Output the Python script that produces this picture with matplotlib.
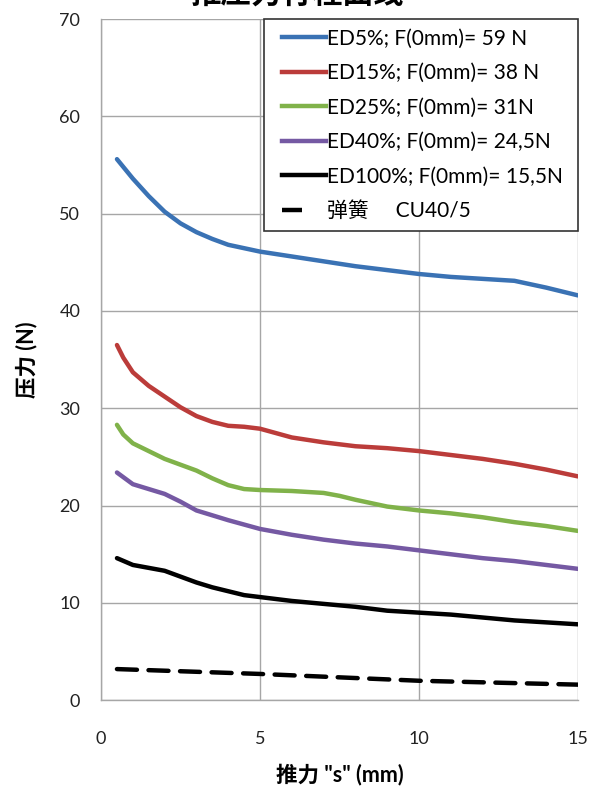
import matplotlib
matplotlib.use("Agg")
import matplotlib.pyplot as plt
from matplotlib.lines import Line2D
from matplotlib.legend_handler import HandlerLine2D

plt.rcParams['font.family'] = ['Lato', 'Noto Sans CJK SC', 'DejaVu Sans']

# ---- data ----
x_blue = [0.5, 1.0, 1.5, 2.0, 2.5, 3.0, 3.5, 4.0, 5.0, 6.0, 7.0, 8.0, 9.0, 10.0, 11.0, 12.0, 13.0, 14.0, 15.0]
y_blue = [55.6, 53.6, 51.8, 50.2, 49.0, 48.1, 47.4, 46.8, 46.1, 45.6, 45.1, 44.6, 44.2, 43.8, 43.5, 43.3, 43.1, 42.4, 41.6]

x_red = [0.5, 0.7, 1.0, 1.5, 2.0, 2.5, 3.0, 3.5, 4.0, 4.5, 5.0, 6.0, 7.0, 8.0, 9.0, 10.0, 11.0, 12.0, 13.0, 14.0, 15.0]
y_red = [36.5, 35.2, 33.7, 32.3, 31.2, 30.1, 29.2, 28.6, 28.2, 28.1, 27.9, 27.0, 26.5, 26.1, 25.9, 25.6, 25.2, 24.8, 24.3, 23.7, 23.0]

x_green = [0.5, 0.7, 1.0, 1.5, 2.0, 2.5, 3.0, 3.5, 4.0, 4.5, 5.0, 6.0, 7.0, 7.5, 8.0, 9.0, 10.0, 11.0, 12.0, 13.0, 14.0, 15.0]
y_green = [28.3, 27.3, 26.4, 25.6, 24.8, 24.2, 23.6, 22.8, 22.1, 21.7, 21.6, 21.5, 21.3, 21.0, 20.6, 19.9, 19.5, 19.2, 18.8, 18.3, 17.9, 17.4]

x_purple = [0.5, 1.0, 1.5, 2.0, 2.5, 3.0, 3.5, 4.0, 5.0, 6.0, 7.0, 8.0, 9.0, 10.0, 11.0, 12.0, 13.0, 14.0, 15.0]
y_purple = [23.4, 22.2, 21.7, 21.2, 20.4, 19.5, 19.0, 18.5, 17.6, 17.0, 16.5, 16.1, 15.8, 15.4, 15.0, 14.6, 14.3, 13.9, 13.5]

x_black = [0.5, 1.0, 1.5, 2.0, 2.5, 3.0, 3.5, 4.0, 4.5, 5.0, 6.0, 7.0, 8.0, 9.0, 10.0, 11.0, 12.0, 13.0, 14.0, 15.0]
y_black = [14.6, 13.9, 13.6, 13.3, 12.7, 12.1, 11.6, 11.2, 10.8, 10.6, 10.2, 9.9, 9.6, 9.2, 9.0, 8.8, 8.5, 8.2, 8.0, 7.8]

x_spring = [0.5, 5.0, 10.0, 15.0]
y_spring = [3.2, 2.7, 2.0, 1.6]

labels = ["ED5%; F(0mm)= 59 N", "ED15%; F(0mm)= 38 N", "ED25%; F(0mm)= 31N",
          "ED40%; F(0mm)= 24,5N", "ED100%; F(0mm)= 15,5N", "弹簧     CU40/5"]
colors = ["#3a72b4", "#bb3c3a", "#80b24a", "#7559a3", "#000000", "#000000"]

x_ticks = [0, 5, 10, 15]
y_ticks = [0, 10, 20, 30, 40, 50, 60, 70]

title = "推压力行程曲线"
xlabel = '推力 "s" (mm)'
ylabel = "压力 (N)"


class IndentedLine(HandlerLine2D):
    """Legend line that leaves some blank space on its left."""
    def __init__(self, indent_frac=0.3, **kw):
        super().__init__(**kw)
        self.indent_frac = indent_frac

    def get_xdata(self, legend, xdescent, ydescent, width, height, fontsize):
        xdata, xdata_marker = super().get_xdata(legend, xdescent, ydescent, width, height, fontsize)
        x0, x1 = xdata[0], xdata[-1]
        xdata = [x0 + (x1 - x0) * self.indent_frac, x1]
        return xdata, xdata_marker


# ---- figure ----
fig = plt.figure(figsize=(5.98, 7.93), dpi=100)
ax = fig.add_axes([0.169, 0.117, 0.7975, 0.859])

lw = 3.2
series = [(x_blue, y_blue), (x_red, y_red), (x_green, y_green),
          (x_purple, y_purple), (x_black, y_black)]
for (xs, ys), c in zip(series, colors[:5]):
    ax.plot(xs, ys, color=c, lw=lw, solid_capstyle='round', solid_joinstyle='round', zorder=3)
ax.plot(x_spring, y_spring, color='black', lw=lw, dashes=(4.5, 2.6),
        dash_capstyle='round', zorder=3)

ax.set_xlim(0, 15)
ax.set_ylim(0, 70)
ax.set_xticks(x_ticks)
ax.set_yticks(y_ticks)
ax.grid(True, color='#a6a6a6', lw=1.0)
ax.set_axisbelow(True)
for s in ['top', 'right']:
    ax.spines[s].set_visible(False)
for s in ['left', 'bottom']:
    ax.spines[s].set_color('#a6a6a6')
    ax.spines[s].set_linewidth(1.0)
ax.tick_params(axis='both', length=0, labelsize=13, colors='#222222')
ax.tick_params(axis='x', pad=22)
ax.tick_params(axis='y', pad=15)

ax.set_xlabel(xlabel, fontsize=15.5, fontweight='bold', labelpad=12)
ax.set_ylabel(ylabel, fontsize=15.5, fontweight='bold', labelpad=16)

handles = [Line2D([], [], color=c, lw=lw) for c in colors[:5]]
handles.append(Line2D([], [], color='black', lw=lw, dashes=(4.5, 10)))
hmap = {h: IndentedLine(indent_frac=0.17) for h in handles}
leg = ax.legend(handles, [l + " " for l in labels], loc='upper right', bbox_to_anchor=(1.0, 1.0),
                fontsize=15, frameon=True, fancybox=False, edgecolor='#333333',
                framealpha=1, handlelength=2.55, handletextpad=0.05,
                labelspacing=0.7, borderpad=0.45, borderaxespad=0.0,
                handler_map=hmap)
leg.get_frame().set_linewidth(1.2)

fig.text(0.497, 0.991, title, ha='center', va='bottom', fontsize=22, fontweight='bold')

fig.savefig("out.png", dpi=100)
